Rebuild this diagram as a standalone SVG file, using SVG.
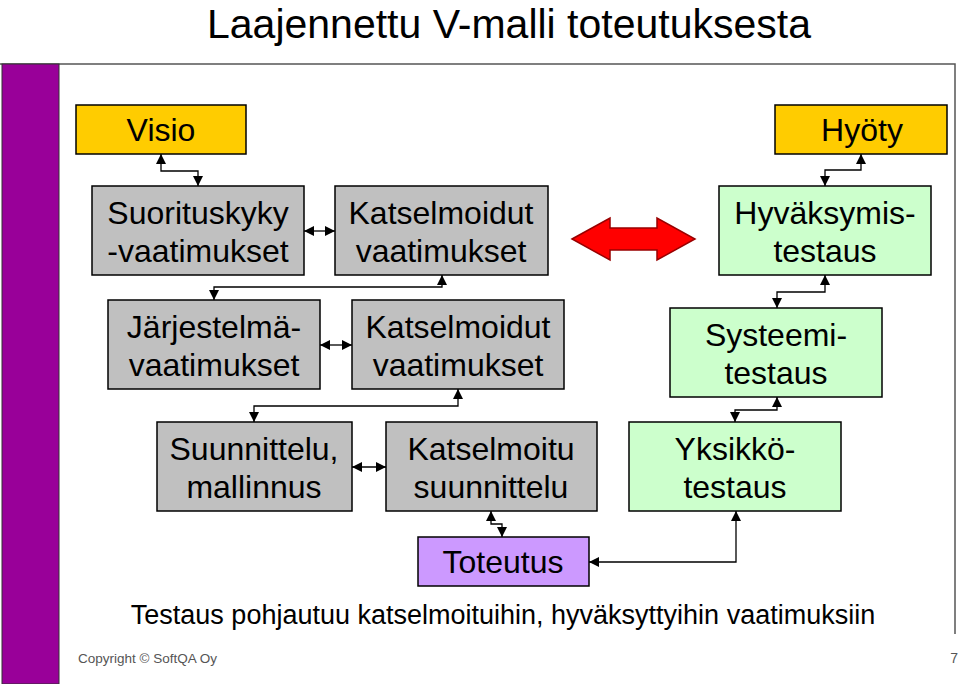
<svg xmlns="http://www.w3.org/2000/svg" width="960" height="684" viewBox="0 0 960 684">
<style>
text{font-family:"Liberation Sans",Arial,sans-serif;fill:#000}
.n rect{stroke:#000;stroke-width:1.5}
.y{fill:#FFCC00}
.g{fill:#C0C0C0}
.gr{fill:#CCFFCC}
.p{fill:#CC99FF}
.t{font-size:32px;text-anchor:middle}
.c{fill:none;stroke:#000;stroke-width:1.3}
</style>
<defs>
<marker id="a" viewBox="0 0 10 10" refX="10" refY="5" markerWidth="10" markerHeight="10" markerUnits="userSpaceOnUse" orient="auto-start-reverse"><path d="M0,0L10,5L0,10z" fill="#000"/></marker>
</defs>
<rect x="0" y="0" width="960" height="684" fill="#fff"/>
<text x="509" y="38" font-size="41" text-anchor="middle">Laajennettu V-malli toteutuksesta</text>
<g id="frame">
<path d="M0,64H955V634" fill="none" stroke="#555" stroke-width="1.5"/>
<rect x="2" y="64" width="57" height="620" fill="#990099" stroke="#333" stroke-width="1"/>
</g>
<g id="visio" class="n"><rect class="y" x="76" y="105" width="170" height="49"/><text class="t" x="161" y="141">Visio</text></g>
<g id="hyoty" class="n"><rect class="y" x="775" y="105" width="172" height="49"/><text class="t" x="862" y="141">Hyöty</text></g>
<g id="suorituskyky" class="n"><rect class="g" x="92" y="186" width="212" height="89"/><text class="t" x="198" y="224">Suorituskyky</text><text class="t" x="198" y="262">-vaatimukset</text></g>
<g id="katselmoidut1" class="n"><rect class="g" x="335" y="186" width="213" height="89"/><text class="t" x="441" y="224">Katselmoidut</text><text class="t" x="441" y="262">vaatimukset</text></g>
<g id="hyvaksymis" class="n"><rect class="gr" x="719" y="186" width="212" height="89"/><text class="t" x="825" y="224">Hyväksymis-</text><text class="t" x="825" y="262">testaus</text></g>
<g id="jarjestelma" class="n"><rect class="g" x="108" y="300" width="212" height="89"/><text class="t" x="214" y="338">Järjestelmä-</text><text class="t" x="214" y="376">vaatimukset</text></g>
<g id="katselmoidut2" class="n"><rect class="g" x="352" y="300" width="212" height="89"/><text class="t" x="458" y="338">Katselmoidut</text><text class="t" x="458" y="376">vaatimukset</text></g>
<g id="systeemi" class="n"><rect class="gr" x="670" y="308" width="212" height="89"/><text class="t" x="776" y="346">Systeemi-</text><text class="t" x="776" y="384">testaus</text></g>
<g id="suunnittelu" class="n"><rect class="g" x="157" y="422" width="195" height="89"/><text class="t" x="254" y="460">Suunnittelu,</text><text class="t" x="254" y="498">mallinnus</text></g>
<g id="katselmoitu" class="n"><rect class="g" x="386" y="422" width="211" height="89"/><text class="t" x="491" y="460">Katselmoitu</text><text class="t" x="491" y="498">suunnittelu</text></g>
<g id="yksikko" class="n"><rect class="gr" x="629" y="422" width="212" height="89"/><text class="t" x="735" y="460">Yksikkö-</text><text class="t" x="735" y="498">testaus</text></g>
<g id="toteutus" class="n"><rect class="p" x="418" y="537" width="171" height="49"/><text class="t" x="503" y="573">Toteutus</text></g>
<g id="connectors">
<path class="c" d="M161,154V171H198V186" marker-start="url(#a)" marker-end="url(#a)"/>
<path class="c" d="M304,231H335" marker-start="url(#a)" marker-end="url(#a)"/>
<path class="c" d="M442,275V287H214V300" marker-start="url(#a)" marker-end="url(#a)"/>
<path class="c" d="M320,345H352" marker-start="url(#a)" marker-end="url(#a)"/>
<path class="c" d="M458,389V406H254V422" marker-start="url(#a)" marker-end="url(#a)"/>
<path class="c" d="M352,467H386" marker-start="url(#a)" marker-end="url(#a)"/>
<path class="c" d="M491,511V524H502V537" marker-start="url(#a)" marker-end="url(#a)"/>
<path class="c" d="M736,511V562H589" marker-start="url(#a)" marker-end="url(#a)"/>
<path class="c" d="M861,154V170H825V186" marker-start="url(#a)" marker-end="url(#a)"/>
<path class="c" d="M825,275V292H777V308" marker-start="url(#a)" marker-end="url(#a)"/>
<path class="c" d="M777,397V410H735V422" marker-start="url(#a)" marker-end="url(#a)"/>
<path d="M572,239L610,218V228H657V218L695,239L657,260V250H610V260Z" fill="#FF0000" stroke="#990000" stroke-width="1.5"/>
</g>
<text x="503" y="624" font-size="27" text-anchor="middle">Testaus pohjautuu katselmoituihin, hyväksyttyihin vaatimuksiin</text>
<text x="78" y="663" font-size="13.5" style="fill:#555">Copyright © SoftQA Oy</text>
<text x="958" y="663" font-size="14" text-anchor="end" style="fill:#555">7</text>
</svg>
